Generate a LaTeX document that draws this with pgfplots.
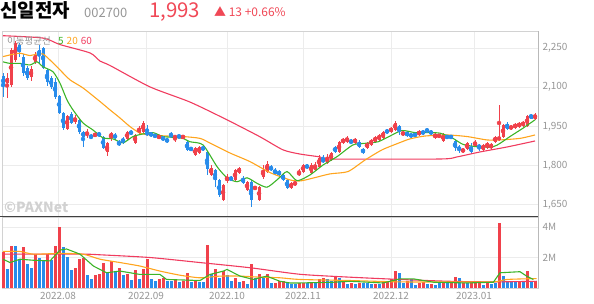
\documentclass[border=0pt]{standalone}
\usepackage{fontspec}
\setmainfont{Noto Sans CJK KR}
\usepackage{pgfplots}
\usepackage{pgfplotstable}
\pgfplotsset{compat=1.18}
\definecolor{cred}{RGB}{240,65,75}
\definecolor{cblue}{RGB}{40,140,235}
\definecolor{cgreen}{RGB}{60,180,40}
\definecolor{corange}{RGB}{255,165,30}
\definecolor{cpink}{RGB}{240,60,95}
\definecolor{ctxt}{RGB}{240,72,86}
\definecolor{cgrid}{RGB}{236,236,236}
\definecolor{clab}{RGB}{150,150,150}

\pgfplotstableread{
i o h l c v vu
0 2143 2154 2062 2105 2.33 1
1 2116 2154 2059 2135 1.27 0
2 2108 2250 2101 2242 2.78 1
3 2204 2277 2196 2269 2.78 0
4 2261 2269 2216 2235 1.84 0
5 2216 2227 2143 2154 2.71 1
6 2173 2181 2128 2135 1.60 0
7 2139 2181 2124 2170 1.33 0
8 2196 2235 2189 2223 2.22 1
9 2242 2261 2189 2223 2.00 0
10 2250 2254 2170 2173 1.78 0
11 2166 2170 2105 2120 2.22 1
12 2135 2143 2093 2101 1.82 0
13 2120 2135 2055 2062 2.78 1
14 2066 2070 1998 2001 4.00 1
15 2001 2005 1936 1944 2.71 0
16 1940 1994 1936 1990 2.04 0
17 1998 2005 1959 1963 1.18 0
18 1967 1994 1959 1982 1.33 1
19 1975 1979 1921 1929 1.89 1
20 1929 1932 1871 1910 2.00 1
21 1917 1940 1906 1925 0.84 0
22 1913 1921 1902 1906 0.56 0
23 1913 1925 1910 1921 0.84 1
24 1925 1929 1910 1913 0.93 1
25 1910 1913 1864 1867 1.67 1
26 1852 1890 1837 1887 1.00 0
27 1906 1929 1894 1925 1.78 1
28 1917 1925 1898 1906 1.04 0
29 1890 1898 1875 1879 1.29 1
30 1902 1910 1883 1887 0.84 0
31 1902 1932 1898 1929 0.89 1
32 1929 1936 1917 1921 0.51 0
33 1887 1921 1883 1917 1.16 1
34 1925 1952 1921 1944 0.62 0
35 1929 1971 1925 1963 1.22 1
36 1929 1955 1913 1917 1.89 1
37 1925 1929 1910 1913 0.56 0
38 1917 1921 1906 1910 0.44 0
39 1906 1917 1902 1913 0.60 1
40 1910 1913 1894 1898 0.67 1
41 1902 1906 1887 1890 0.49 0
42 1921 1929 1906 1910 0.44 0
43 1906 1917 1890 1913 0.56 1
44 1913 1917 1906 1910 0.40 0
45 1906 1917 1902 1913 0.49 1
46 1890 1894 1856 1860 1.00 1
47 1867 1871 1856 1860 0.40 0
48 1841 1871 1837 1867 0.49 1
49 1848 1875 1845 1871 0.40 0
50 1871 1875 1856 1860 0.40 0
51 1852 1856 1764 1787 2.84 1
52 1764 1802 1760 1791 0.93 0
53 1783 1787 1718 1745 1.22 1
54 1745 1749 1680 1688 0.67 0
55 1668 1730 1665 1726 1.11 1
56 1741 1768 1733 1756 0.84 0
57 1753 1760 1741 1745 0.44 0
58 1745 1787 1741 1783 0.67 1
59 1772 1795 1768 1791 0.40 0
60 1753 1760 1730 1733 0.49 1
61 1707 1741 1703 1737 0.27 0
62 1737 1745 1642 1668 1.60 1
63 1710 1722 1707 1718 0.67 0
64 1668 1722 1665 1718 0.93 1
65 1756 1802 1749 1783 0.67 0
66 1776 1818 1772 1806 0.93 1
67 1795 1802 1779 1783 0.33 0
68 1783 1791 1764 1768 0.33 1
69 1779 1783 1760 1764 0.44 1
70 1764 1768 1741 1745 0.49 1
71 1745 1749 1710 1714 0.33 0
72 1714 1737 1710 1733 0.27 0
73 1726 1741 1722 1737 0.27 0
74 1764 1787 1760 1776 0.33 1
75 1776 1806 1772 1802 0.33 1
76 1802 1806 1787 1791 0.33 0
77 1772 1810 1768 1802 0.33 1
78 1783 1814 1779 1802 0.33 0
79 1795 1841 1791 1829 0.56 1
80 1825 1841 1810 1814 0.67 1
81 1810 1845 1806 1833 0.56 0
82 1821 1852 1818 1848 0.44 0
83 1871 1875 1848 1852 0.78 1
84 1852 1894 1848 1890 0.67 0
85 1887 1906 1883 1902 0.44 1
86 1890 1913 1887 1906 0.27 0
87 1894 1902 1883 1887 0.33 1
88 1887 1906 1883 1902 0.27 0
89 1890 1898 1867 1871 0.33 1
90 1864 1867 1845 1848 0.33 0
91 1867 1890 1864 1887 0.33 0
92 1879 1902 1875 1898 0.27 0
93 1890 1913 1887 1910 0.27 1
94 1898 1921 1894 1917 0.27 0
95 1906 1932 1902 1929 0.49 1
96 1936 1940 1921 1925 0.44 1
97 1929 1948 1925 1944 0.56 1
98 1936 1971 1932 1963 1.11 1
99 1952 1955 1917 1932 1.00 0
100 1917 1932 1913 1929 0.33 0
101 1929 1932 1910 1913 0.44 1
102 1921 1925 1906 1910 0.60 0
103 1921 1925 1910 1913 0.18 0
104 1917 1936 1913 1932 0.33 1
105 1932 1936 1917 1921 0.40 1
106 1940 1944 1925 1929 0.27 0
107 1932 1936 1917 1921 0.27 1
108 1906 1925 1902 1921 0.18 0
109 1910 1921 1906 1917 0.33 0
110 1894 1925 1890 1921 0.33 1
111 1913 1917 1902 1906 0.33 0
112 1913 1917 1902 1906 0.33 1
113 1894 1898 1856 1867 0.71 1
114 1871 1879 1848 1860 0.67 0
115 1852 1867 1848 1864 0.33 1
116 1864 1890 1860 1887 0.33 0
117 1871 1887 1845 1852 0.44 1
118 1875 1898 1871 1890 0.44 1
119 1879 1883 1856 1867 0.44 1
120 1860 1883 1856 1879 0.22 0
121 1867 1890 1864 1887 0.40 1
122 1867 1887 1860 1883 0.27 0
123 1890 1913 1887 1910 0.33 0
124 1898 2032 1894 1910 4.27 1
125 1910 1959 1906 1955 0.78 0
126 1959 1967 1936 1940 0.44 0
127 1940 1955 1936 1952 0.49 0
128 1944 1963 1940 1959 0.44 0
129 1948 1967 1944 1963 0.44 1
130 1952 1971 1948 1967 0.40 0
131 1952 1994 1948 1990 1.11 1
132 1994 1998 1979 1980 0.40 0
133 1980 2001 1975 1993 0.49 1
}\candles

\pgfplotsset{
  panel/.style={
    scale only axis, width=536bp,
    xmin=-0.25, xmax=133.75,
    xtick={13.75,35.75,56,75,97,117.75},
    grid=major, major grid style={draw=cgrid, line width=0.8bp},
    tick style={draw=none},
    axis line style={draw=gray!35, line width=0.8bp},
    yticklabel pos=right,
    yticklabel style={font=\fontsize{10}{12}\selectfont, text=clab, xshift=1bp},
    xticklabel style={font=\fontsize{10}{12}\selectfont, text=clab},
    clip=true,
  },
  wick/.style={color=#1, only marks, mark=none, forget plot,
    error bars/y dir=both, error bars/y explicit, error bars/error mark=none,
    error bars/error bar style={line width=1bp, color=#1}},
  body/.style={color=#1, only marks, mark=none, forget plot,
    error bars/y dir=both, error bars/y explicit, error bars/error mark=none,
    error bars/error bar style={line width=3bp, color=#1}},
  vbar/.style={ycomb, mark=none, forget plot, draw=#1, line width=3bp},
}

\begin{document}
\begin{tikzpicture}
\path[use as bounding box] (0bp,0bp) rectangle (594bp,304bp);

% ---------------- price panel ----------------
\begin{axis}[panel, name=main, at={(2bp,87bp)}, anchor=south west, height=186bp,
  ymin=1603, ymax=2315, ytick={1650,1800,1950,2100,2250},
  xticklabels={},
  /pgf/number format/.cd, 1000 sep={,}, assume math mode=true]
% wicks
\addplot[wick=cred, restrict expr to domain={\thisrow{c}-\thisrow{o}}{0:5000}]
  table[x=i, y expr={(\thisrow{h}+\thisrow{l})/2}, y error expr={(\thisrow{h}-\thisrow{l})/2}] {\candles};
\addplot[wick=cblue, restrict expr to domain={\thisrow{o}-\thisrow{c}}{0.5:5000}]
  table[x=i, y expr={(\thisrow{h}+\thisrow{l})/2}, y error expr={(\thisrow{h}-\thisrow{l})/2}] {\candles};
% bodies
\addplot[body=cred, restrict expr to domain={\thisrow{c}-\thisrow{o}}{0:5000}]
  table[x=i, y expr={(\thisrow{o}+\thisrow{c})/2}, y error expr={max(abs(\thisrow{c}-\thisrow{o})/2,1.5)}] {\candles};
\addplot[body=cblue, restrict expr to domain={\thisrow{o}-\thisrow{c}}{0.5:5000}]
  table[x=i, y expr={(\thisrow{o}+\thisrow{c})/2}, y error expr={max(abs(\thisrow{c}-\thisrow{o})/2,1.5)}] {\candles};
% MA60
\addplot[cpink, line width=1.1bp, smooth, tension=0.4, mark=none] coordinates {
(0,2297) (10,2288) (14.25,2263) (21.75,2231) (24.25,2200) (26.75,2183) (36.75,2101)
(46.75,2043) (56,1975) (64.25,1910) (70,1860) (74.25,1844) (79.25,1833) (81.75,1825)
(109.25,1825) (113.5,1833) (119.25,1852) (126,1871) (133,1894)};
% MA20
\addplot[corange, line width=1.1bp, smooth, tension=0.4, mark=none] coordinates {
(0,2217) (2.5,2226) (4.25,2230) (6.75,2221) (8.5,2227) (10,2227) (11.75,2204)
(14.25,2166) (16.75,2128) (20,2097) (24.25,2045) (26.75,2013) (29.25,1982)
(31.75,1949) (34.25,1924) (36.75,1917) (41,1913) (45,1911) (49.25,1904)
(51.75,1886) (56.75,1848) (61.75,1815) (66.75,1773) (71.75,1745) (74.25,1741)
(76.75,1749) (81.75,1768) (86.25,1777) (90.5,1821) (94.75,1860) (98.75,1885)
(101.75,1902) (105.5,1913) (111,1917) (116,1911) (121,1898) (124.25,1898)
(129.25,1904) (133,1917)};
% MA5
\addplot[cgreen, line width=1.1bp, smooth, tension=0.4, mark=none] coordinates {
(0,2197) (1.75,2191) (4.25,2191) (6.75,2185) (8.5,2197) (10,2178) (12.5,2159)
(14.25,2115) (16,2051) (17.5,2013) (20,1963) (22.5,1936) (25,1906) (27.5,1902)
(30,1887) (32.5,1911) (35,1921) (37.5,1926) (40,1911) (42.5,1908) (45,1904)
(46.75,1891) (50,1879) (53.5,1796) (56,1753) (58.5,1738) (61,1753) (63.5,1732)
(66,1717) (68.5,1745) (71,1777) (73.5,1742) (76.75,1764) (80,1802) (83.5,1834)
(87.5,1879) (90.5,1885) (93.75,1891) (96.75,1913) (99.75,1934) (103,1926)
(105.5,1926) (109.25,1924) (112.5,1904) (115,1881) (118.5,1872) (122.5,1872)
(124.25,1885) (126.75,1911) (130,1943) (133,1975)};
\end{axis}

% ---------------- volume panel ----------------
\begin{axis}[panel, name=vol, at={(main.south west)}, anchor=north west, height=71bp,
  ymin=0, ymax=4.66, ytick={2,4}, yticklabels={2M,4M},
  xticklabels={2022.08,2022.09,2022.10,2022.11,2022.12,2023.01},
  xticklabel style={yshift=-1bp}]
\addplot[vbar=cred, restrict expr to domain={\thisrow{vu}}{0.5:1.5}]
  table[x=i, y=v] {\candles};
\addplot[vbar=cblue, restrict expr to domain={\thisrow{vu}}{-0.5:0.5}]
  table[x=i, y=v] {\candles};
\addplot[cpink, line width=1.1bp, smooth, tension=0.4, mark=none] coordinates {
(0,2.22) (20,2.22) (24.25,2.18) (36.75,2.0) (49.25,1.67) (61.75,1.33) (74.25,0.9)
(86.75,0.71) (99.25,0.56) (111.75,0.44) (122.6,0.4) (133.4,0.44)};
\addplot[corange, line width=1.1bp, smooth, tension=0.4, mark=none] coordinates {
(0,2.4) (4.25,2.4) (7.6,2.22) (14.25,2.27) (20,2.22) (24.25,1.89) (29.25,1.67)
(34.25,1.44) (39.25,1.11) (44.25,0.84) (49.25,0.67) (54.25,0.78) (59.25,0.78)
(64.25,0.71) (69.25,0.67) (74.25,0.56) (86.75,0.49) (99.25,0.4) (111.75,0.4)
(122.6,0.4) (126,0.56) (133.4,0.62)};
\addplot[cgreen, line width=1.1bp, mark=none] coordinates {
(0,1.89) (1.75,1.67) (4.25,1.89) (7.6,1.82) (11.75,1.78) (14.25,2.49) (15.9,2.56)
(19.25,2.22) (22.6,1.44) (25.9,1.0) (29.25,1.11) (34.25,0.89) (39.25,0.89)
(40.9,0.56) (49.25,0.49) (51.75,0.89) (55.1,1.11) (56,1.22) (59.25,0.78)
(62.6,0.56) (65.9,0.78) (69.25,0.44) (71.75,0.33) (74.25,0.33) (82.6,0.38)
(86.75,0.44) (95,0.33) (99.25,0.6) (102.6,0.6) (107.6,0.38) (115.9,0.33)
(122.6,0.38) (124.25,1.0) (129.25,1.07) (130.9,0.78) (132.6,0.56)};
\end{axis}

% panel frame accents
\draw[draw=black!75, line width=1bp] (main.south west) ++(-2bp,0) -- (main.south east);
\draw[draw=gray!55, line width=1bp] (vol.south east) -- (main.north east);

% legend of moving averages
\node[anchor=base west, inner sep=0, font=\fontsize{9.5}{11}\selectfont, text=clab] at (7bp,259bp) {이동평균선};
\node[anchor=base west, inner sep=0, font=\fontsize{10}{11}\selectfont] at (58bp,259bp)
  {\textcolor{cgreen}{5}\hspace{3bp}\textcolor{corange}{20}\hspace{3bp}\textcolor{cpink}{60}};

% watermark
\node[anchor=base west, inner sep=0, font=\bfseries\fontsize{14}{16}\selectfont, text=black!18] at (4bp,91bp) {©PAXNet};

% header
\node[anchor=base west, inner sep=0, font=\bfseries\fontsize{19}{22}\selectfont] at (0bp,286.5bp) {신일전자};
\node[anchor=base west, inner sep=0, font=\fontsize{13}{15}\selectfont, text=clab] at (84bp,286.5bp) {002700};
\node[anchor=base west, inner sep=0, font=\fontsize{20.5}{23}\selectfont, text=ctxt] at (149bp,286.5bp) {1,993};
\node[anchor=base west, inner sep=0, font=\fontsize{12}{14}\selectfont, text=ctxt] at (214bp,287bp) {▲ 13 +0.66\%};
\end{tikzpicture}
\end{document}
